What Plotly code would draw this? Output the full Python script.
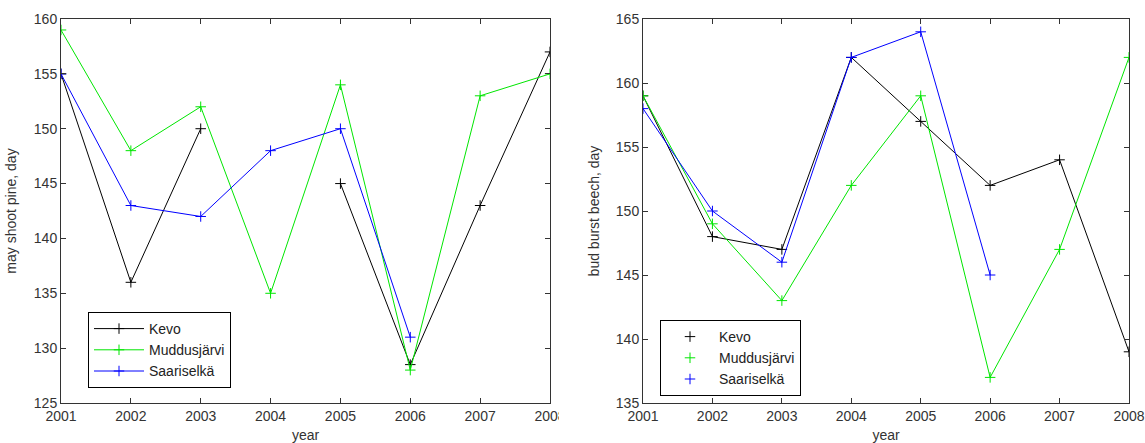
import plotly.graph_objects as go

years = [2001, 2002, 2003, 2004, 2005, 2006, 2007, 2008]

# Left panel: may shoot pine, day
pine_kevo = [155, 136, 150, None, 145, 128.5, 143, 157]
pine_mudd = [159, 148, 152, 135, 154, 128, 153, 155]
pine_saar = [155, 143, 142, 148, 150, 131, None, None]

# Right panel: bud burst beech, day
beech_kevo = [159, 148, 147, 162, 157, 152, 154, 139]
beech_mudd = [159, 149, 143, 152, 159, 137, 147, 162]
beech_saar = [158, 150, 146, 162, 164, 145, None, None]

names = ["Kevo", "Muddusjärvi", "Saariselkä"]
colors = ["#000000", "#00e600", "#0000ff"]

FONT = "Liberation Sans, Arial, sans-serif"
W, H = 1145, 443

fig = go.Figure()

def mk(color):
    return dict(symbol="cross-thin", size=7.5, color=color,
                line=dict(color=color, width=1))

for name, ys, c in zip(names, [pine_kevo, pine_mudd, pine_saar], colors):
    fig.add_trace(go.Scatter(x=years, y=ys, name=name, mode="lines+markers",
                             line=dict(color=c, width=1), marker=mk(c),
                             connectgaps=False, xaxis="x", yaxis="y",
                             legend="legend"))

for name, ys, c in zip(names, [beech_kevo, beech_mudd, beech_saar], colors):
    fig.add_trace(go.Scatter(x=years, y=ys, name=name, mode="lines+markers",
                             line=dict(color=c, width=1), marker=mk(c),
                             connectgaps=False, xaxis="x2", yaxis="y2",
                             showlegend=False))
    # marker-only legend entry
    fig.add_trace(go.Scatter(x=[None], y=[None], name=name, mode="markers",
                             marker=mk(c), xaxis="x2", yaxis="y2",
                             legend="legend2"))

ax_common = dict(showline=True, linecolor="#333333", linewidth=1, mirror="ticks",
                 ticks="inside", ticklen=5, tickcolor="#333333", showgrid=False,
                 zeroline=False, automargin=False, ticklabeloverflow="allow",
                 tickfont=dict(family=FONT, size=14, color="#333333"),
                 title_font=dict(family=FONT, size=14, color="#333333"))

yd = [1 - 403 / H, 1 - 19 / H]

fig.update_layout(
    width=W, height=H,
    margin=dict(l=0, r=0, t=0, b=0),
    paper_bgcolor="white", plot_bgcolor="white",
    font=dict(family=FONT, size=14, color="#222222"),
    xaxis=dict(domain=[61 / W, 550 / W], range=[2001, 2008], dtick=1,
               title=dict(text="year", standoff=7), anchor="y", **ax_common),
    yaxis=dict(domain=yd, range=[125, 160], dtick=5,
               title=dict(text="may shoot pine, day", standoff=13), anchor="x", **ax_common),
    xaxis2=dict(domain=[643 / W, 1129 / W], range=[2001, 2008], dtick=1,
                title=dict(text="year", standoff=7), anchor="y2", **ax_common),
    yaxis2=dict(domain=yd, range=[135, 165], dtick=5,
                title=dict(text="bud burst beech, day", standoff=12), anchor="x2", **ax_common),
    legend=dict(x=88 / W, y=1 - 312 / H, xanchor="left", yanchor="top",
                bordercolor="#000000", borderwidth=1, bgcolor="white",
                font=dict(family=FONT, size=14, color="#222222"),
                tracegroupgap=0, itemwidth=50),
    legend2=dict(x=660 / W, y=1 - 320 / H, xanchor="left", yanchor="top",
                 bordercolor="#000000", borderwidth=1, bgcolor="white",
                 font=dict(family=FONT, size=14, color="#222222"),
                 tracegroupgap=0, itemwidth=48),
    showlegend=True,
    shapes=[dict(type="rect", xref="paper", yref="paper",
                 x0=559 / W, x1=600 / W, y0=1 - 425 / H, y1=1 - 405 / H,
                 fillcolor="white", line=dict(width=0), layer="above")],
)

fig.write_html("out.html", config={"displayModeBar": False},
               post_script="document.body.style.margin='0';")
